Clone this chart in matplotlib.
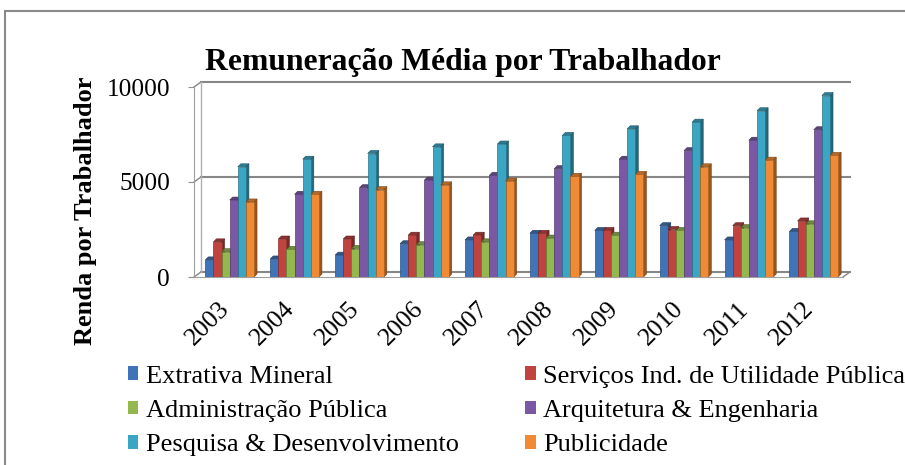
import matplotlib
matplotlib.use("Agg")
import matplotlib.pyplot as plt
import matplotlib.transforms as mtransforms
from matplotlib.patches import Polygon, Rectangle, Patch
import numpy as np

plt.rcParams['font.family'] = ['Liberation Serif', 'DejaVu Serif']

years = ['2003', '2004', '2005', '2006', '2007', '2008', '2009', '2010', '2011', '2012']
series_names = ['Extrativa Mineral', 'Serviços Ind. de Utilidade Pública',
                'Administração Pública', 'Arquitetura & Engenharia',
                'Pesquisa & Desenvolvimento', 'Publicidade']

extrativa = [900, 950, 1150, 1750, 1950, 2300, 2450, 2700, 1950, 2400]
servicos = [1850, 2000, 2000, 2200, 2200, 2300, 2450, 2500, 2700, 2950]
administracao = [1330, 1450, 1500, 1700, 1850, 2050, 2200, 2450, 2600, 2800]
arquitetura = [4050, 4350, 4700, 5100, 5350, 5700, 6200, 6650, 7200, 7750]
pesquisa = [5800, 6200, 6500, 6850, 7000, 7450, 7800, 8150, 8750, 9550]
publicidade = [3950, 4350, 4600, 4850, 5050, 5300, 5400, 5800, 6150, 6400]

series = [extrativa, servicos, administracao, arquitetura, pesquisa, publicidade]
colors = ['#3f74b8', '#c0433f', '#93b84e', '#7a58a3', '#3aa6c4', '#f18a34']

W, H = 905, 465
fig = plt.figure(figsize=(W / 100, H / 100), dpi=100)
ax = fig.add_axes([194 / W, (H - 277) / H, 649 / W, 190 / H])
ax.set_xlim(-0.5, 9.5)
ax.set_ylim(0, 10000)

# depth of the fake 3d box, converted from pixels to data units
px_x = 10 / 649
px_y = 10000 / 190
dx, dy = 7 * px_x, 5 * px_y
ex, ey = 3 * px_x, 3 * px_y

grid_c = '#878787'
xlo, xhi = -0.5, 9.5
yticks = [0, 5000, 10000]

# back wall, left wall, floor
for v in yticks:
    ax.plot([xlo + dx, xhi + dx], [v + dy, v + dy], color=grid_c, lw=1.5, clip_on=False, zorder=1)
    ax.plot([xlo, xlo + dx], [v, v + dy], color=grid_c, lw=1.0, clip_on=False, zorder=1)
ax.plot([xlo + dx, xlo + dx], [dy, 10000 + dy], color='#b0b0b0', lw=1.0, clip_on=False, zorder=1)
ax.plot([xhi, xhi + dx], [0, dy], color=grid_c, lw=1.0, clip_on=False, zorder=1)

def darker(c, f=0.62):
    rgb = np.array(matplotlib.colors.to_rgb(c))
    return tuple(rgb * f)

bw = 0.125
shift = 0.05
x = np.arange(len(years))
z = 3
for i in range(len(years)):
    for k, vals in enumerate(series):
        left = x[i] + shift - 3 * bw + k * bw
        top = vals[i]
        c = colors[k]
        side = Polygon([(left + bw, 0), (left + bw + ex, ey), (left + bw + ex, top + ey), (left + bw, top)],
                       closed=True, facecolor=darker(c), edgecolor=darker(c, 0.5), lw=0.4, zorder=z)
        cap = Polygon([(left, top), (left + ex, top + ey), (left + bw + ex, top + ey), (left + bw, top)],
                      closed=True, facecolor=darker(c, 0.75), edgecolor=darker(c, 0.5), lw=0.4, zorder=z)
        ax.add_patch(side)
        ax.add_patch(cap)
        ax.bar(left, top, width=bw, align='edge', color=c, edgecolor=darker(c, 0.7),
               linewidth=0.5, zorder=z + 0.5)
        z += 1

for s in ['top', 'right']:
    ax.spines[s].set_visible(False)
ax.spines['left'].set_color('#a0a0a0')
ax.spines['bottom'].set_color('#a0a0a0')
ax.patch.set_alpha(0)

ax.set_yticks(yticks)
ax.set_yticklabels(['0', '5000', '10000'])
ax.tick_params(axis='y', length=4.3, color='#909090', labelsize=18.3, pad=13)
ax.set_xticks(x)
ax.set_xticklabels(years, rotation=45, ha='right', va='top')
ax.tick_params(axis='x', length=0, labelsize=18.5, pad=15)
offset = mtransforms.ScaledTranslation(7 / 100, 0, fig.dpi_scale_trans)
for lab in ax.get_xticklabels():
    lab.set_transform(lab.get_transform() + offset)

ax.set_ylabel('Renda por Trabalhador', fontsize=19, fontweight='bold')
ax.yaxis.set_label_coords(-0.15, 0.35)

fig.text(463 / W, (H - 70) / H, 'Remuneração Média por Trabalhador', ha='center', va='baseline',
         fontsize=22.8, fontweight='bold')

# legend is filled row by row in the reference
order = [0, 2, 4, 1, 3, 5]
handles = [Patch(facecolor=colors[k], edgecolor='none') for k in order]
labels = [series_names[k] for k in order]
fig.legend(handles, labels, ncol=2, loc='upper left', bbox_to_anchor=(117 / W, (H - 355) / H),
           frameon=False, fontsize=19, handlelength=0.4, handleheight=0.4, handletextpad=0.3,
           columnspacing=2.5, labelspacing=0.47, borderaxespad=0)

# chart border (cropped on the right and bottom)
fig.patches.append(Rectangle((5 / W, -0.05), 1.0, (H - 11) / H + 0.05, transform=fig.transFigure,
                             fill=False, edgecolor='#8a8a8a', lw=1.5))

fig.savefig('out.png', dpi=100)
